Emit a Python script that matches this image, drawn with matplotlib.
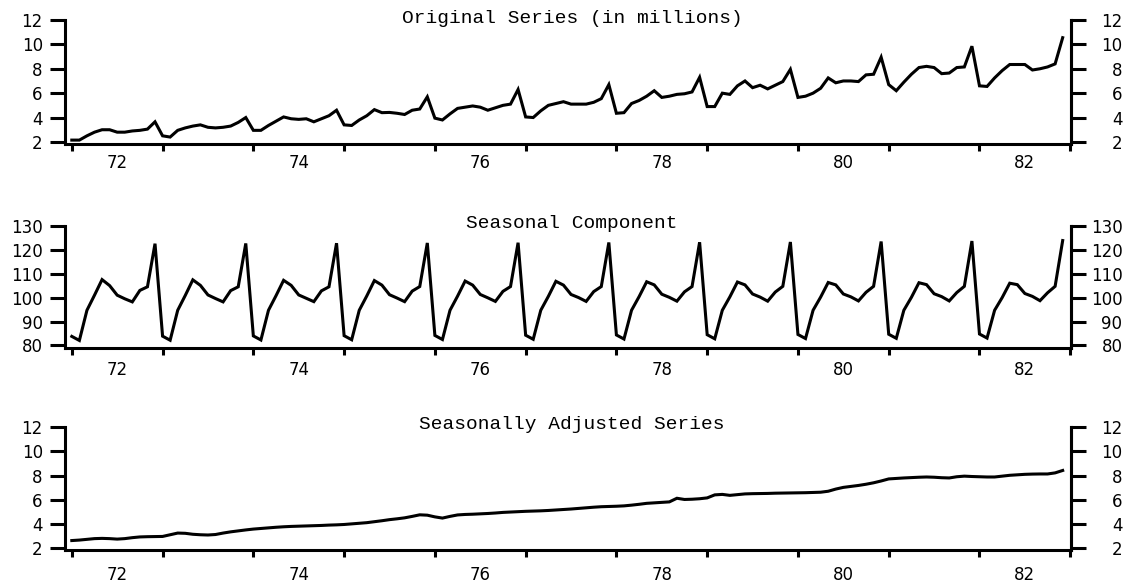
import matplotlib
matplotlib.use("Agg")
import matplotlib.pyplot as plt
import numpy as np

# ---------------- data (monthly, Jan 1972 - Dec 1982) ----------------
year_labels = ["72", "74", "76", "78", "80", "82"]

original_by_year = [
    [2.15, 2.15, 2.50, 2.80, 3.00, 3.00, 2.80, 2.80, 2.90, 2.95, 3.05, 3.65],  # 1972
    [2.50, 2.40, 2.95, 3.15, 3.30, 3.40, 3.20, 3.15, 3.20, 3.30, 3.60, 4.00],  # 1973
    [2.95, 2.95, 3.35, 3.70, 4.05, 3.90, 3.85, 3.90, 3.65, 3.90, 4.15, 4.60],  # 1974
    [3.40, 3.35, 3.80, 4.15, 4.65, 4.40, 4.42, 4.35, 4.25, 4.60, 4.70, 5.70],  # 1975
    [3.95, 3.80, 4.30, 4.75, 4.85, 4.95, 4.85, 4.60, 4.80, 5.00, 5.10, 6.30],  # 1976
    [4.05, 4.00, 4.55, 5.00, 5.15, 5.30, 5.10, 5.10, 5.10, 5.25, 5.55, 6.70],  # 1977
    [4.35, 4.40, 5.15, 5.40, 5.75, 6.20, 5.65, 5.75, 5.90, 5.95, 6.10, 7.30],  # 1978
    [4.90, 4.90, 6.00, 5.90, 6.60, 7.00, 6.45, 6.65, 6.35, 6.65, 6.95, 7.95],  # 1979
    [5.65, 5.75, 6.00, 6.40, 7.25, 6.85, 7.00, 7.00, 6.95, 7.50, 7.55, 8.95],  # 1980
    [6.70, 6.20, 6.90, 7.55, 8.10, 8.20, 8.10, 7.60, 7.65, 8.10, 8.15, 9.85],  # 1981
    [6.60, 6.55, 7.25, 7.85, 8.35, 8.35, 8.35, 7.90, 8.00, 8.15, 8.40, 10.55],  # 1982
]

seasonal_by_year = [
    [83.8, 82.1, 94.7, 101.0, 107.5, 105.0, 101.0, 99.5, 98.2, 103.0, 104.5, 122.5],
    [83.9, 82.2, 94.7, 100.9, 107.4, 105.1, 101.1, 99.6, 98.2, 102.9, 104.5, 122.6],
    [84.0, 82.3, 94.7, 100.8, 107.2, 105.1, 101.1, 99.7, 98.3, 102.8, 104.5, 122.7],
    [84.1, 82.4, 94.7, 100.7, 107.1, 105.2, 101.2, 99.8, 98.3, 102.7, 104.6, 122.8],
    [84.2, 82.5, 94.7, 100.6, 106.9, 105.2, 101.3, 99.9, 98.4, 102.6, 104.6, 122.9],
    [84.3, 82.6, 94.7, 100.5, 106.8, 105.2, 101.3, 100.0, 98.4, 102.5, 104.6, 123.0],
    [84.4, 82.7, 94.7, 100.4, 106.6, 105.3, 101.4, 100.1, 98.5, 102.4, 104.6, 123.1],
    [84.5, 82.8, 94.7, 100.3, 106.5, 105.3, 101.5, 100.2, 98.5, 102.3, 104.7, 123.2],
    [84.6, 82.9, 94.7, 100.2, 106.3, 105.3, 101.5, 100.3, 98.6, 102.2, 104.7, 123.4],
    [84.7, 83.0, 94.7, 100.1, 106.2, 105.4, 101.6, 100.4, 98.6, 102.1, 104.7, 123.6],
    [84.8, 83.1, 94.7, 100.0, 106.0, 105.4, 101.7, 100.5, 98.7, 102.0, 104.7, 123.8],
]

adjusted_by_year = [
    [2.62, 2.66, 2.72, 2.78, 2.80, 2.78, 2.74, 2.78, 2.86, 2.92, 2.94, 2.95],
    [2.96, 3.10, 3.24, 3.22, 3.14, 3.10, 3.08, 3.12, 3.24, 3.34, 3.42, 3.50],
    [3.57, 3.62, 3.67, 3.72, 3.76, 3.79, 3.81, 3.83, 3.85, 3.87, 3.90, 3.92],
    [3.95, 4.00, 4.05, 4.10, 4.18, 4.26, 4.35, 4.42, 4.50, 4.62, 4.75, 4.72],
    [4.58, 4.48, 4.62, 4.74, 4.78, 4.80, 4.83, 4.86, 4.90, 4.95, 4.98, 5.01],
    [5.04, 5.06, 5.08, 5.11, 5.15, 5.19, 5.23, 5.28, 5.33, 5.38, 5.42, 5.44],
    [5.46, 5.49, 5.55, 5.62, 5.70, 5.74, 5.78, 5.82, 6.12, 6.02, 6.04, 6.08],
    [6.15, 6.40, 6.44, 6.36, 6.42, 6.48, 6.50, 6.51, 6.52, 6.54, 6.55, 6.56],
    [6.57, 6.58, 6.60, 6.62, 6.70, 6.88, 7.02, 7.10, 7.18, 7.28, 7.40, 7.55],
    [7.72, 7.76, 7.80, 7.83, 7.86, 7.88, 7.86, 7.82, 7.80, 7.90, 7.95, 7.92],
    [7.90, 7.88, 7.88, 7.95, 8.02, 8.06, 8.10, 8.12, 8.13, 8.13, 8.22, 8.42],
]

titles = ["Original Series (in millions)", "Seasonal Component",
          "Seasonally Adjusted Series"]

original = np.concatenate(original_by_year)
seasonal = np.concatenate(seasonal_by_year)
adjusted = np.concatenate(adjusted_by_year)
months = np.arange(len(original))

# ---------------- figure ----------------
W, H = 1136, 588
fig = plt.figure(figsize=(W / 100, H / 100), dpi=100)

def px_box(top, bottom, left=65, right=1071):
    return [left / W, 1 - bottom / H, (right - left) / W, (bottom - top) / H]

panels = [
    dict(y=original, box=px_box(20, 144), ylim=(1.83, 12), yticks=[2, 4, 6, 8, 10, 12],
         xpad=7, title_y=1.016),
    dict(y=seasonal, box=px_box(225.7, 347.8), ylim=(79.04, 130),
         yticks=[80, 90, 100, 110, 120, 130], xpad=9.5, title_y=1.022),
    dict(y=adjusted, box=px_box(427.2, 549.5), ylim=(1.88, 12),
         yticks=[2, 4, 6, 8, 10, 12], xpad=12, title_y=1.018),
]

num_font = dict(family="DejaVu Sans", size=12)
lw_spine = 2.2

for p, title in zip(panels, titles):
    ax = fig.add_axes(p["box"])
    ax.plot(months, p["y"], color="black", lw=2.2, solid_joinstyle="miter")
    ax.set_xlim(-0.9, 132.1)
    ax.set_ylim(*p["ylim"])

    for s in ["top"]:
        ax.spines[s].set_visible(False)
    for s in ["left", "right", "bottom"]:
        ax.spines[s].set_linewidth(lw_spine)

    # x axis: year boundary ticks, labels centred in alternate years
    ax.set_xticks(np.arange(0, 133, 12))
    ax.set_xticklabels([])
    ax.set_xticks(np.arange(6, 132, 24), minor=True)
    ax.set_xticklabels(year_labels, minor=True, fontdict=num_font)
    ax.tick_params(axis="x", which="major", direction="out", length=5, width=2.2)
    ax.tick_params(axis="x", which="minor", length=0, pad=p["xpad"])

    # left y axis
    ax.set_yticks(p["yticks"])
    ax.set_yticklabels([str(v) for v in p["yticks"]], fontdict=num_font)
    ax.tick_params(axis="y", direction="out", length=11, width=2.2, pad=5)

    # right y axis (labels right aligned)
    ax2 = ax.twinx()
    ax2.set_ylim(*p["ylim"])
    for s in ["top", "left", "bottom"]:
        ax2.spines[s].set_visible(False)
    ax2.spines["right"].set_linewidth(lw_spine)
    ax2.set_yticks(p["yticks"])
    ax2.set_yticklabels([str(v) for v in p["yticks"]], fontdict=num_font)
    ax2.tick_params(axis="y", direction="out", length=11, width=2.2, pad=26)
    for lab in ax2.get_yticklabels():
        lab.set_horizontalalignment("right")

    ax.text(0.504, p["title_y"], title, transform=ax.transAxes, ha="center",
            va="center", fontsize=14, family="Liberation Mono", color="black")

fig.savefig("out.png", dpi=100)
